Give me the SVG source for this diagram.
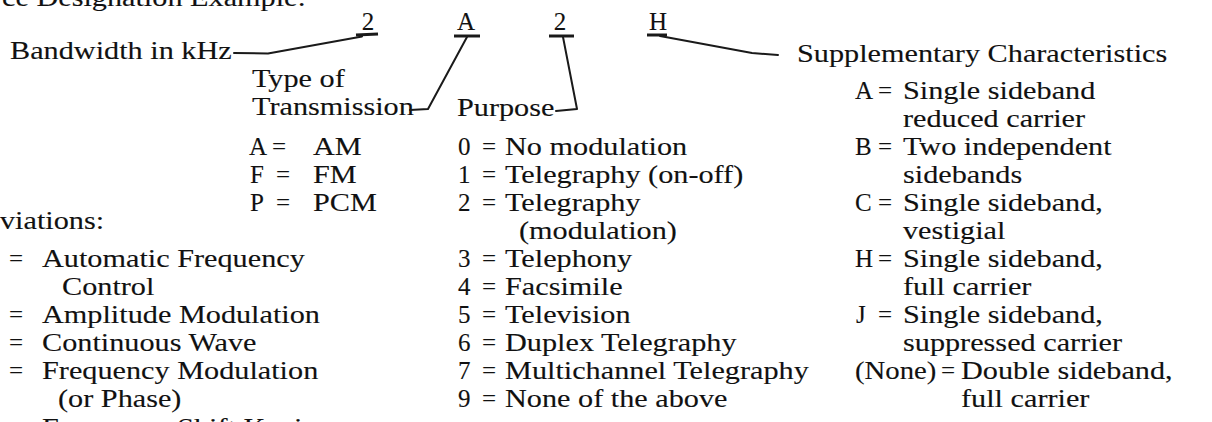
<svg xmlns="http://www.w3.org/2000/svg" width="1212" height="422" viewBox="0 0 1212 422">
<style>
.t{font-family:"Liberation Serif","Times New Roman",serif;font-size:25px;fill:#111;stroke:#111;stroke-width:0.12}
.c{text-anchor:middle}
.ld{fill:none;stroke:#1a1a1a;stroke-width:2;stroke-linejoin:round;stroke-linecap:round}
.ul{fill:none;stroke:#1a1a1a;stroke-width:3;stroke-linecap:butt}
</style>
<rect width="1212" height="422" fill="#ffffff"/>

<g id="title-fragment">
<text class="t" transform="translate(2,6) scale(1.21,1)">ce Designation Example:</text>
</g>

<g id="designation">
<text class="t c" x="368" y="30">2</text>
<text class="t c" x="466" y="30">A</text>
<text class="t c" x="560" y="30">2</text>
<text class="t c" x="658" y="30">H</text>
</g>

<g id="bandwidth">
<text class="t" transform="translate(10,59) scale(1.21,1)">Bandwidth in kHz</text>
</g>

<g id="type-of-transmission">
<text class="t" transform="translate(252,87) scale(1.21,1)">Type of</text>
<text class="t" transform="translate(252,115) scale(1.21,1)">Transmission</text>
<text class="t" x="249" y="155">A</text>
<text class="t" x="272" y="155">=</text>
<text class="t" transform="translate(313,155) scale(1.21,1)">AM</text>
<text class="t" x="250" y="183">F</text>
<text class="t" x="276" y="183">=</text>
<text class="t" transform="translate(313,183) scale(1.21,1)">FM</text>
<text class="t" x="250" y="211">P</text>
<text class="t" x="276" y="211">=</text>
<text class="t" transform="translate(313,211) scale(1.21,1)">PCM</text>
</g>

<g id="abbreviations">
<text class="t" transform="translate(0,229) scale(1.21,1)">viations:</text>
<text class="t" x="9" y="267">=</text>
<text class="t" transform="translate(42,267) scale(1.21,1)">Automatic Frequency</text>
<text class="t" transform="translate(62,295) scale(1.21,1)">Control</text>
<text class="t" x="9" y="323">=</text>
<text class="t" transform="translate(42,323) scale(1.21,1)">Amplitude Modulation</text>
<text class="t" x="9" y="351">=</text>
<text class="t" transform="translate(42,351) scale(1.21,1)">Continuous Wave</text>
<text class="t" x="9" y="379">=</text>
<text class="t" transform="translate(42,379) scale(1.21,1)">Frequency Modulation</text>
<text class="t" transform="translate(58,407) scale(1.21,1)">(or Phase)</text>
<text class="t" x="9" y="436">=</text>
<text class="t" transform="translate(42,436) scale(1.21,1)">Frequency Shift Keying</text>
</g>

<g id="purpose">
<text class="t" transform="translate(457,116) scale(1.21,1)">Purpose</text>
<text class="t" x="458" y="155">0</text>
<text class="t" x="482" y="155">=</text>
<text class="t" transform="translate(505,155) scale(1.21,1)">No modulation</text>
<text class="t" x="458" y="183">1</text>
<text class="t" x="482" y="183">=</text>
<text class="t" transform="translate(505,183) scale(1.21,1)">Telegraphy (on-off)</text>
<text class="t" x="458" y="211">2</text>
<text class="t" x="482" y="211">=</text>
<text class="t" transform="translate(505,211) scale(1.21,1)">Telegraphy</text>
<text class="t" transform="translate(519,239) scale(1.21,1)">(modulation)</text>
<text class="t" x="458" y="267">3</text>
<text class="t" x="482" y="267">=</text>
<text class="t" transform="translate(505,267) scale(1.21,1)">Telephony</text>
<text class="t" x="458" y="295">4</text>
<text class="t" x="482" y="295">=</text>
<text class="t" transform="translate(505,295) scale(1.21,1)">Facsimile</text>
<text class="t" x="458" y="323">5</text>
<text class="t" x="482" y="323">=</text>
<text class="t" transform="translate(505,323) scale(1.21,1)">Television</text>
<text class="t" x="458" y="351">6</text>
<text class="t" x="482" y="351">=</text>
<text class="t" transform="translate(505,351) scale(1.21,1)">Duplex Telegraphy</text>
<text class="t" x="458" y="379">7</text>
<text class="t" x="482" y="379">=</text>
<text class="t" transform="translate(505,379) scale(1.21,1)">Multichannel Telegraphy</text>
<text class="t" x="458" y="407">9</text>
<text class="t" x="482" y="407">=</text>
<text class="t" transform="translate(505,407) scale(1.21,1)">None of the above</text>
</g>

<g id="supplementary">
<text class="t" transform="translate(797,62) scale(1.21,1)">Supplementary Characteristics</text>
<text class="t" x="855" y="99">A</text>
<text class="t" x="878" y="99">=</text>
<text class="t" transform="translate(903,99) scale(1.21,1)">Single sideband</text>
<text class="t" transform="translate(903,127) scale(1.21,1)">reduced carrier</text>
<text class="t" x="855" y="155">B</text>
<text class="t" x="878" y="155">=</text>
<text class="t" transform="translate(903,155) scale(1.21,1)">Two independent</text>
<text class="t" transform="translate(903,183) scale(1.21,1)">sidebands</text>
<text class="t" x="855" y="211">C</text>
<text class="t" x="878" y="211">=</text>
<text class="t" transform="translate(903,211) scale(1.21,1)">Single sideband,</text>
<text class="t" transform="translate(903,239) scale(1.21,1)">vestigial</text>
<text class="t" x="855" y="267">H</text>
<text class="t" x="878" y="267">=</text>
<text class="t" transform="translate(903,267) scale(1.21,1)">Single sideband,</text>
<text class="t" transform="translate(903,295) scale(1.21,1)">full carrier</text>
<text class="t" x="856" y="323">J</text>
<text class="t" x="878" y="323">=</text>
<text class="t" transform="translate(903,323) scale(1.21,1)">Single sideband,</text>
<text class="t" transform="translate(903,351) scale(1.21,1)">suppressed carrier</text>
<text class="t" transform="translate(855,379) scale(1.15,1)">(None)</text>
<text class="t" x="941" y="379">=</text>
<text class="t" transform="translate(961,379) scale(1.21,1)">Double sideband,</text>
<text class="t" transform="translate(961,407) scale(1.21,1)">full carrier</text>
</g>

<g id="connectors">
<path class="ld" d="M234,53 L268,53.5 L362,36.5"/>
<path class="ul" d="M356,35 L378,34"/>
<path class="ld" d="M410,110 L428,109 L467,37"/>
<path class="ul" d="M454,36 L480,36"/>
<path class="ld" d="M556,111 L577,109 L563,37"/>
<path class="ul" d="M549,36 L574,36"/>
<path class="ul" d="M647,35 L667,35"/>
<path class="ld" d="M660,36 L752,53 L778,55"/>
</g>
</svg>
